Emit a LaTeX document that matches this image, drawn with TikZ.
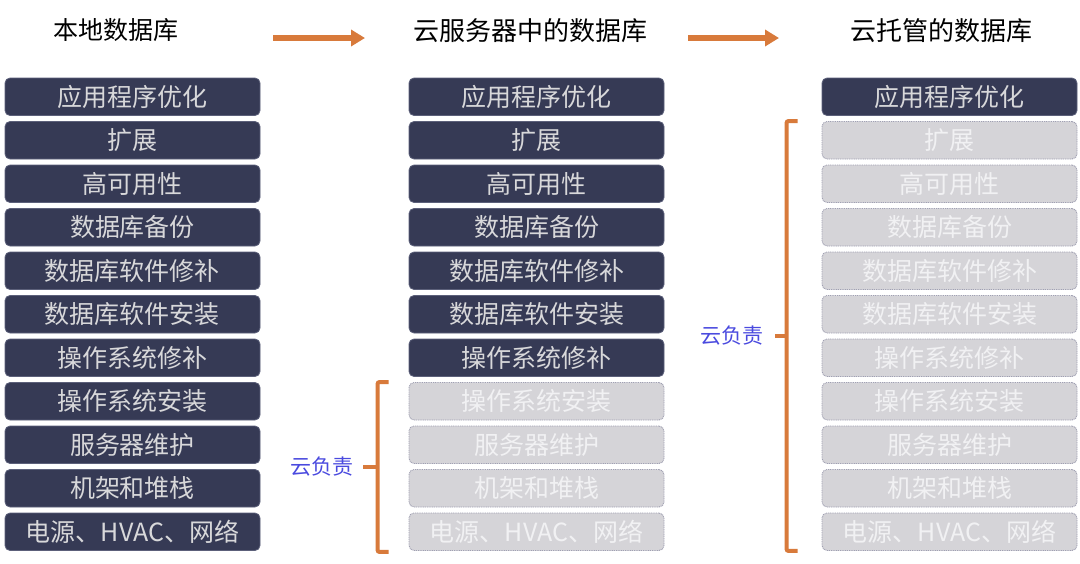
\documentclass[tikz,border=0pt]{standalone}
\usepackage{fontspec}
\setmainfont{Noto Sans CJK SC}
\usetikzlibrary{arrows.meta,calc}
\definecolor{navy}{HTML}{363A55}
\definecolor{navyedge}{HTML}{5C607A}
\definecolor{boxtext}{HTML}{D8D8DA}
\definecolor{greyfill}{HTML}{D5D4D8}
\definecolor{greyedge}{HTML}{A0A0B2}
\definecolor{greytext}{HTML}{F1F1F3}
\definecolor{orangeline}{HTML}{D87A3B}
\definecolor{respblue}{HTML}{4A4ADF}
\begin{document}
\begin{tikzpicture}[x=1pt,y=-1pt,
  box/.style={minimum width=255pt, minimum height=37.5pt, rounded corners=5pt, inner sep=0pt, font=\fontsize{25}{25}\selectfont},
  darkbox/.style={box, fill=navy, draw=navyedge, line width=0.8pt, text=boxtext},
  greybox/.style={box, fill=greyfill, draw=greyedge, line width=0.9pt, dash pattern=on 1pt off 0.8pt, text=greytext},
  title/.style={inner sep=0pt, text=black},
  flowarrow/.style={draw=orangeline, line width=5.5pt, -{Triangle[length=14pt,width=16pt]}},
  bracket/.style={draw=orangeline, line width=4pt, rounded corners=2pt},
  resp/.style={inner sep=0pt, text=respblue, font=\fontsize{21}{21}\selectfont, anchor=east}
]
\useasboundingbox (0,0) rectangle (1080,563);
\fill[white] (0,0) rectangle (1080,563);

% titles
\node[title, font=\fontsize{25}{25}\selectfont] (t1) at (116,30.5) {本地数据库};
\node[title, font=\fontsize{26}{26}\selectfont] (t2) at (530.5,30.5) {云服务器中的数据库};
\node[title, font=\fontsize{26}{26}\selectfont] (t3) at (941,31) {云托管的数据库};

% arrows
\coordinate (a1s) at (273,38);
\coordinate (a1e) at (365,38);
\coordinate (a2s) at (688,38);
\coordinate (a2e) at (779,38);
\draw[flowarrow] (a1s) -- (a1e);
\draw[flowarrow] (a2s) -- (a2e);

% boxes
\foreach \t [count=\i] in {应用程序优化,扩展,高可用性,数据库备份,数据库软件修补,数据库软件安装,操作系统修补,操作系统安装,服务器维护,机架和堆栈,电源、HVAC、网络}{
  \pgfmathsetmacro{\yy}{96.75+43.5*(\i-1)}
  \node[darkbox] (L\i) at (132.5,\yy) {\t};
  \ifnum\i<8 \def\mst{darkbox}\else\def\mst{greybox}\fi
  \node[\mst] (M\i) at (536.5,\yy) {\t};
  \ifnum\i<2 \def\rst{darkbox}\else\def\rst{greybox}\fi
  \node[\rst] (R\i) at (949.5,\yy) {\t};
}

% middle bracket
\coordinate (mb1) at ([xshift=-20pt]M8.north west);
\coordinate (mb2) at ([xshift=-20pt,yshift=-1pt]M11.south west);
\draw[bracket] (mb1) -- ++(-11,0) |- (mb2);
\coordinate (mt1) at ($(mb1)!0.5!(mb2)+(-11,0)$);
\coordinate (mt2) at ($(mt1)+(-15,0)$);
\draw[bracket] (mt1) -- (mt2);
\node[resp] (mr) at ($(mt2)+(-9,0)$) {云负责};

% right bracket
\coordinate (rb1) at ([xshift=-24pt]R2.north west);
\coordinate (rb2) at ([xshift=-24pt]R11.south west);
\draw[bracket] (rb1) -- ++(-11,0) |- (rb2);
\coordinate (rt1) at ($(rb1)!0.5!(rb2)+(-11,0)$);
\coordinate (rt2) at ($(rt1)+(-12,0)$);
\draw[bracket] (rt1) -- (rt2);
\node[resp] (rr) at ($(rt2)+(-11,0)$) {云负责};
\end{tikzpicture}
\end{document}
